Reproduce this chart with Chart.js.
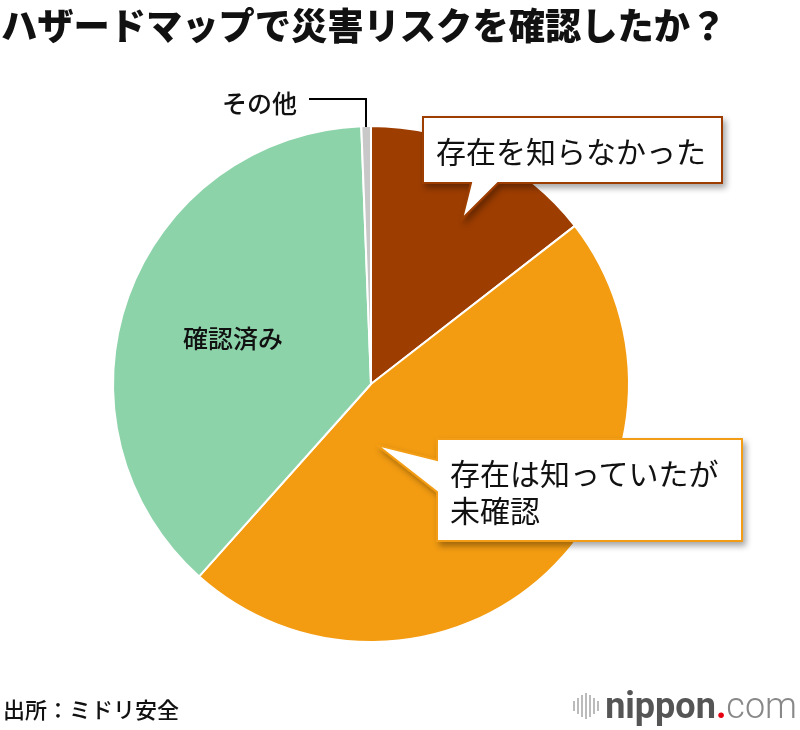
<!DOCTYPE html>
<html lang="ja">
<head>
<meta charset="utf-8">
<script src="https://cdn.jsdelivr.net/npm/chart.js@4.4.1/dist/chart.umd.min.js"></script>
<style>
  body { margin: 0; background: #fff; }
  #wrap { position: relative; width: 800px; height: 730px; overflow: hidden; font-family: "Noto Sans CJK JP", "Noto Sans", sans-serif; color: #111; }
  #pieChart { position: absolute; left: 0; top: 0; }
  #overlay { position: absolute; left: 0; top: 0; }
  .txt { position: absolute; white-space: nowrap; }
  #title { left: 1px; top: 2px; font-size: 37px; font-weight: 900; line-height: 44px; transform: scaleX(0.98); transform-origin: left center; }
  #source { left: 3px; top: 694px; font-size: 22px; font-weight: 500; line-height: 28px; }
  #logo { right: 3px; top: 684px; height: 44px; display: flex; align-items: center; font-family: Roboto, "Liberation Sans", sans-serif; }
  #logo .bars { display: flex; align-items: center; gap: 2px; margin-right: 6px; }
  #logo .bars span { display: block; width: 2px; background: #bbb; }
  #logo .n { font-size: 36px; font-weight: 700; color: #555; }
  #logo .d { font-size: 36px; font-weight: 700; color: #e60012; }
  #logo .c { font-size: 36px; font-weight: 300; color: #888; }
</style>
</head>
<body>
<div id="wrap">
  <canvas id="pieChart" width="800" height="730"></canvas>
  <svg id="overlay" width="800" height="730">
    <defs>
      <filter id="shadow" x="-20%" y="-20%" width="140%" height="160%">
        <feDropShadow dx="3" dy="4" stdDeviation="3" flood-color="#000" flood-opacity="0.35"/>
      </filter>
    </defs>
    <polyline points="309,99 366,99 366,127" fill="none" stroke="#000" stroke-width="2"/>
    <polygon id="call1" points="423,117 722,117 722,183 498,183 462,219 471,183 423,183" fill="#fff" stroke="#9d3d00" stroke-width="2" filter="url(#shadow)"/>
    <polygon id="call2" points="437,439 742,439 742,541 437,541 437,492 377,445 437,460" fill="#fff" stroke="#f39c12" stroke-width="2" filter="url(#shadow)"/>
  </svg>

  <div class="txt" id="title">ハザードマップで災害リスクを確認したか？</div>

  <div class="txt" style="left:222px; top:86px; font-size:25px; font-weight:500; line-height:32px;">その他</div>
  <div class="txt" style="left:183px; top:321px; font-size:25px; font-weight:500; line-height:32px;">確認済み</div>
  <div class="txt" style="left:436px; top:129px; font-size:30px; line-height:42px;">存在を知らなかった</div>
  <div class="txt" style="left:450px; top:454px; font-size:30px; line-height:37px;">存在は知っていたが<br>未確認</div>

  <div class="txt" id="source">出所：ミドリ安全</div>
  <div class="txt" id="logo">
    <div class="bars">
      <span style="height:10px"></span><span style="height:16px"></span><span style="height:22px"></span><span style="height:26px"></span><span style="height:22px"></span><span style="height:16px"></span><span style="height:10px"></span>
    </div>
    <span class="n">nippon</span><span class="d">.</span><span class="c">com</span>
  </div>
</div>

<script>
const labels = ["存在を知らなかった", "存在は知っていたが未確認", "確認済み", "その他"];
const values = [14.5, 47.1, 37.8, 0.6];
const colors = ["#9d3d00", "#f39c12", "#8dd3aa", "#c8c8c8"];

function renderPieChart(labels, values){
    const ctx = document.getElementById("pieChart").getContext("2d");
    new Chart(ctx, {
        type: "pie",
        data: {
            labels: labels,
            datasets: [{
                data: values,
                backgroundColor: colors,
                borderColor: "#ffffff",
                borderWidth: 2
            }]
        },
        options: {
            responsive: false,
            animation: false,
            layout: { padding: { left: 112, right: 170, top: 125, bottom: 87 } },
            plugins: {
                legend: { display: false },
                tooltip: { enabled: false }
            }
        }
    });
}

window.onload = function (){
    renderPieChart(labels, values);
}
</script>
</body>
</html>
